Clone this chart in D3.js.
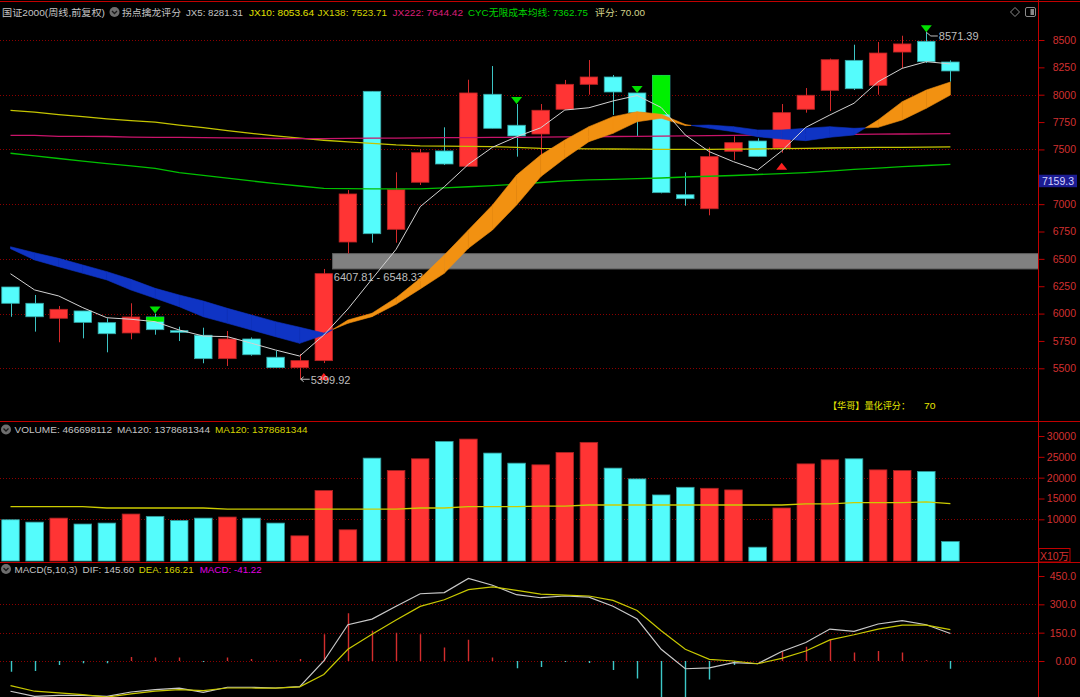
<!DOCTYPE html>
<html><head><meta charset="utf-8">
<script src="https://cdn.jsdelivr.net/npm/d3@7"></script>
<style>html,body{margin:0;padding:0;background:#000;overflow:hidden}</style>
</head><body>
<svg id="c" width="1080" height="697"></svg>
<script>
// ---------- DATA (weekly bars, 40 weeks) ----------
const openP  = [6243,6094,5957,6024,5917,5823,5969,5844,5802,5588,5768,5601,5506,5570,6654,8031,6770,7200,7486,7346,8004,7721,7641,7867,8095,8162,8016,8177,7086,6958,7483,7577,7513,7867,8040,8314,8086,8390,8488,8299];
const highP  = [6243,6170,6069,6024,5957,6094,6000,5880,5871,5841,5782,5658,5631,6407.81,7129,8031,7291,7504,7702,8137,8262,7915,7915,8135,8317,8180,8016,8177,7291,7519,7620,7602,7915,8061,8330,8457,8482,8539,8571.39,8314];
const lowP   = [5971,5835,5738,5774,5646,5765,5807,5749,5546,5521,5615,5505,5399.92,5548,6548.33,6648,6648,7175,7358,7346,7693,7434,7434,7867,8000,7815,7623,7099,6986,6898,7403,7437,7470,7836,7851,8043,8000,8241,8290,8119];
const closeP = [6094,5971,6039,5920,5816,5969,5853,5829,5588,5768,5624,5506,5570,6365,7093,6730,7132,7470,7367,8016,7693,7623,7858,8095,8162,8025,7836,7105,7050,7434,7562,7437,7836,7995,8320,8055,8381,8464,8302,8217];

const jx5    = [6364,6216,6161,6054,5962,5948,5926,5850,5795,5789,5729,5667,5612,5804,6042,6316,6587,6977,7159,7364,7520,7616,7698,7860,7881,7943,7993,7883,7632,7479,7388,7312,7486,7702,7815,7922,8119,8241,8302,8281.31];
const jx138  = [7857,7840,7819,7800,7780,7764,7749,7723,7699,7672,7647,7624,7603,7584,7569,7556,7541,7532,7530,7528,7525,7519,7510,7508,7506,7504,7502,7501,7501,7501,7502,7504,7508,7510,7513,7516,7518,7519,7521,7523.71];
const jx222  = [7629,7628,7620,7619,7618,7613,7611,7610,7608,7605,7603,7600,7598,7599,7601,7603,7604,7606,7607,7608,7610,7611,7612,7614,7616,7618,7620,7622,7624,7626,7628,7630,7632,7634,7636,7638,7640,7641,7643,7644.42];
const cyc    = [7465,7441,7417,7394,7371,7349,7326,7289,7263,7237,7212,7188,7166,7144,7142,7140,7139,7140,7148,7159,7170,7182,7198,7212,7221,7227,7234,7239,7248,7255,7262,7271,7279,7288,7301,7317,7330,7342,7353,7362.75];
const bandFast = [6593,6490,6428,6368,6307,6215,6140,6063,5971,5911,5850,5789,5728,5804,5941,6003,6145,6322,6535,6764,6992,7266,7449,7586,7708,7799,7845,7821,7728,7693,7662,7616,7595,7580,7611,7632,7769,7936,8043,8116];
const bandSlow = [6611,6556,6505,6444,6383,6313,6231,6170,6115,6048,5987,5926,5875,5822,5911,5972,6085,6225,6368,6597,6764,6992,7251,7419,7571,7647,7753,7785,7718,7723,7708,7678,7678,7693,7708,7693,7702,7769,7876,7997];

const downSignals = [6,21,26,38];     // green triangles above bar
const upSignals   = [13,32];          // red triangles below bar
const greenBars   = [{i:6, top:5969, bottom:5926},{i:27, top:8177, bottom:7819}];
const zone = {from:13, low:6407.81, high:6548.33};
const lowMark  = {i:12, v:5399.92};
const highMark = {i:38, v:8571.39};
const lastPrice = 7159.3;

const volume = [9900,9330,10290,8870,9100,11270,10710,9730,10290,10550,10290,9100,6040,16900,7490,24690,21700,24530,28700,29260,25900,23480,23080,26050,28470,22290,19700,15850,17690,17450,17060,3310,12720,23310,24290,24530,21870,21700,21470,4667];
const volMA  = [13045,13045,13045,13045,12720,12720,12720,12720,12720,12460,12460,12460,12460,12460,12460,12460,12460,12720,12720,13045,13045,13045,13185,13185,13442,13442,13442,13442,13442,13442,13442,13442,13442,13700,13700,14002,14002,14002,14166,13787];

const dif  = [-160,-187,-182,-182,-187,-164,-152,-144,-166,-139,-139,-143,-136,0,192,222,290,356,362,437,401,351,335,344,338,290,222,62,-41,-36,-9,-14.5,50,98,169,157,196,214,192,145.6];
const dea  = [-130,-160,-169,-178,-191,-174,-160,-152,-157,-143,-143,-144,-137,-71,62,142,217,289,324,378,392,374,354,349,344,321,267,160,62,9,0,-14.5,14,53,112,139,169,190,190,166.21];
const macd = [-57,-53,-21,-12,-12,21,18,18,-5,18,11,2,11,142,253,160,150,142,71,112,18,-39,-32,-5,-11,-48,-93,-198,-206,-98,-21,0,50,75,112,45,53,45,4,-41.22];

const priceTicks = [8500,8250,8000,7750,7500,7000,6750,6500,6250,6000,5750,5500];
const priceGrid  = [8500,8000,7500,7000,6500,6000,5500];
const volTicks   = [30000,25000,20000,15000,10000];
const volGrid    = [20000,10000];
const macdTicks  = [450,300,150,0];
const macdGrid   = [300,150,0];

// ---------- LAYOUT ----------
const W = 1080, H = 697, AX = 1038.5;
const FONT = '"Liberation Sans","Noto Sans CJK SC",sans-serif';
const HFONT = '"Liberation Sans Narrow","Liberation Sans","Noto Sans CJK SC",sans-serif';
const RED = '#ff3434', CYAN = '#54fcfc';
const svg = d3.select('#c');
svg.append('rect').attr('width', W).attr('height', H).attr('fill', '#000');

const n = openP.length;
const x = d3.scaleLinear().domain([0, n - 1]).range([10.5, 950.4]);
const bw = 17.5;
const y  = d3.scaleLinear().domain([5500, 8500]).range([368.3, 40]);
const yV = d3.scaleLinear().domain([0, 30000]).range([561, 436]);
const yM = d3.scaleLinear().domain([0, 450]).range([661, 576]);

const defs = svg.append('defs');
defs.append('clipPath').attr('id','cm').append('rect').attr('x',0).attr('y',20).attr('width',AX).attr('height',401);
defs.append('clipPath').attr('id','cv').append('rect').attr('x',0).attr('y',423).attr('width',AX).attr('height',139);
defs.append('clipPath').attr('id','cd').append('rect').attr('x',0).attr('y',563.5).attr('width',AX).attr('height',134);

const gMain = svg.append('g').attr('clip-path','url(#cm)');
const gVol  = svg.append('g').attr('clip-path','url(#cv)');
const gMacd = svg.append('g').attr('clip-path','url(#cd)');

function grid(g, vals, sc) {
  g.selectAll(null).data(vals).enter().append('line')
    .attr('x1', 0).attr('x2', AX).attr('y1', d => Math.round(sc(d)) + 0.5).attr('y2', d => Math.round(sc(d)) + 0.5)
    .attr('stroke', '#8c0000').attr('stroke-width', 1).attr('stroke-dasharray', '1,2');
}
grid(gMain, priceGrid, y);
grid(gVol, volGrid, yV);
grid(gMacd, macdGrid, yM);

// ---------- MAIN PANEL ----------
gMain.append('rect')
  .attr('x', x(zone.from) + bw / 2).attr('width', AX - (x(zone.from) + bw / 2))
  .attr('y', y(zone.high)).attr('height', y(zone.low) - y(zone.high))
  .attr('fill', '#808080').attr('stroke', '#5c5c5c').attr('stroke-width', 1);
gMain.append('text').attr('x', x(zone.from) + 10).attr('y', y(zone.low) + 8.5)
  .attr('dominant-baseline','central').attr('fill','#bebebe').attr('font-size', 11).attr('font-family', FONT)
  .text(zone.low.toFixed(2) + ' - ' + zone.high.toFixed(2));

const idx = d3.range(n);
const up = i => closeP[i] >= openP[i];
gMain.selectAll('.wick').data(idx).enter().append('line')
  .attr('x1', i => Math.round(x(i)) + 0.5).attr('x2', i => Math.round(x(i)) + 0.5)
  .attr('y1', i => y(highP[i])).attr('y2', i => y(lowP[i]))
  .attr('stroke', i => up(i) ? '#d42a2a' : '#3cc4c4').attr('stroke-width', 1);
gMain.selectAll('.body').data(idx).enter().append('rect')
  .attr('x', i => x(i) - bw / 2).attr('width', bw)
  .attr('y', i => y(Math.max(openP[i], closeP[i])))
  .attr('height', i => Math.max(1.5, Math.abs(y(openP[i]) - y(closeP[i]))))
  .attr('fill', i => up(i) ? RED : CYAN)
  .attr('stroke', i => up(i) ? '#b82424' : '#36a8a8').attr('stroke-width', 0.8);
gMain.selectAll('.gb').data(greenBars).enter().append('rect')
  .attr('x', d => x(d.i) - bw / 2).attr('width', bw)
  .attr('y', d => y(d.top)).attr('height', d => y(d.bottom) - y(d.top))
  .attr('fill', '#00f000');

const ln = arr => d3.line().x((d, i) => x(i)).y(d => y(d))(arr);
gMain.append('path').attr('d', ln(jx138)).attr('fill','none').attr('stroke','#c4c400').attr('stroke-width',1.3);
gMain.append('path').attr('d', ln(jx222)).attr('fill','none').attr('stroke','#c8146a').attr('stroke-width',1.3);
gMain.append('path').attr('d', ln(cyc)).attr('fill','none').attr('stroke','#00c000').attr('stroke-width',1.3);

const polys = [];
for (let i = 0; i < n - 1; i++) {
  const a0 = bandFast[i], b0 = bandSlow[i], a1 = bandFast[i + 1], b1 = bandSlow[i + 1];
  const d0 = a0 - b0, d1 = a1 - b1;
  if ((d0 >= 0) === (d1 >= 0)) {
    polys.push({up: d0 + d1 >= 0, pts: [[i, a0], [i + 1, a1], [i + 1, b1], [i, b0]]});
  } else {
    const t = d0 / (d0 - d1), xm = i + t, vm = a0 + (a1 - a0) * t;
    polys.push({up: d0 >= 0, pts: [[i, a0], [xm, vm], [i, b0]]});
    polys.push({up: d1 >= 0, pts: [[xm, vm], [i + 1, a1], [i + 1, b1]]});
  }
}
const pl = d3.line().x(d => x(d[0])).y(d => y(d[1]));
gMain.selectAll('.band').data(polys).enter().append('path')
  .attr('d', d => pl(d.pts) + 'Z')
  .attr('fill', d => d.up ? '#f29111' : '#0f34c4')
  .attr('stroke', d => d.up ? '#f29111' : '#0f34c4').attr('stroke-width', 0.6);

gMain.append('path').attr('d', ln(jx5)).attr('fill','none').attr('stroke','#d2d2d2').attr('stroke-width',1);

gMain.selectAll('.dn').data(downSignals).enter().append('path')
  .attr('d', i => { const cx = x(i), ay = y(highP[i]); return `M${cx-5.5},${ay-7}L${cx+5.5},${ay-7}L${cx},${ay}Z`; })
  .attr('fill', '#00e000');
gMain.selectAll('.upm').data(upSignals).enter().append('path')
  .attr('d', i => { const cx = x(i), ay = y(lowP[i]) + 10; return `M${cx},${ay}L${cx-5.5},${ay+7}L${cx+5.5},${ay+7}Z`; })
  .attr('fill', '#ff2020');

{
  const lx = x(lowMark.i), ly = y(lowMark.v);
  gMain.append('path').attr('d', `M${lx+1},${ly}L${lx+10},${ly}M${lx+1},${ly}L${lx+4},${ly-2.5}M${lx+1},${ly}L${lx+4},${ly+2.5}`)
    .attr('stroke', '#bebebe').attr('stroke-width', 1).attr('fill','none');
  gMain.append('text').attr('x', lx + 11).attr('y', ly + 1).attr('dominant-baseline','central')
    .attr('fill','#bebebe').attr('font-size', 11).attr('font-family', FONT).text(lowMark.v.toFixed(2));
  const hx = x(highMark.i), hy = y(highMark.v);
  gMain.append('path').attr('d', `M${hx},${hy}L${hx+4.5},${hy+3.8}L${hx+11.5},${hy+3.8}`)
    .attr('stroke', '#bebebe').attr('stroke-width', 1).attr('fill','none');
  gMain.append('text').attr('x', hx + 12.5).attr('y', hy + 3.8).attr('dominant-baseline','central')
    .attr('fill','#bebebe').attr('font-size', 11).attr('font-family', FONT).text(highMark.v.toFixed(2));
}

// ---------- VOLUME PANEL ----------
gVol.selectAll('.vb').data(idx).enter().append('rect')
  .attr('x', i => x(i) - 8.8).attr('width', 17.6)
  .attr('y', i => yV(volume[i])).attr('height', i => yV(0) - yV(volume[i]))
  .attr('fill', i => up(i) ? RED : CYAN)
  .attr('stroke', i => up(i) ? '#a82222' : '#309c9c').attr('stroke-width', 0.8);
gVol.append('path').attr('d', d3.line().x((d, i) => x(i)).y(d => yV(d))(volMA))
  .attr('fill','none').attr('stroke','#cccc00').attr('stroke-width',1.3);

// ---------- MACD PANEL ----------
gMacd.selectAll('.mb').data(idx).enter().append('line')
  .attr('x1', i => Math.round(x(i)) + 0.5).attr('x2', i => Math.round(x(i)) + 0.5)
  .attr('y1', yM(0)).attr('y2', i => yM(macd[i]))
  .attr('stroke', i => macd[i] >= 0 ? '#d22d2d' : '#3cc8c8').attr('stroke-width', 1.4);
const lm = arr => d3.line().x((d, i) => x(i)).y(d => yM(d))(arr);
gMacd.append('path').attr('d', lm(dif)).attr('fill','none').attr('stroke','#c8c8c8').attr('stroke-width',1.2);
gMacd.append('path').attr('d', lm(dea)).attr('fill','none').attr('stroke','#c8c800').attr('stroke-width',1.2);

// ---------- FRAME / AXES ----------
const frame = svg.append('g').attr('stroke', '#c00000').attr('stroke-width', 1);
frame.append('line').attr('x1', 0).attr('x2', W).attr('y1', 1.5).attr('y2', 1.5);
frame.append('line').attr('x1', 0).attr('x2', W).attr('y1', 421.5).attr('y2', 421.5);
frame.append('line').attr('x1', 0).attr('x2', W).attr('y1', 562.5).attr('y2', 562.5);
frame.append('line').attr('x1', AX).attr('x2', AX).attr('y1', 0).attr('y2', H);

function rightAxis(sc, vals, fmt) {
  const g = svg.append('g').attr('transform', `translate(${AX},0)`)
    .call(d3.axisRight(sc).tickValues(vals).tickSize(6).tickFormat(fmt));
  g.select('.domain').remove();
  g.selectAll('.tick line').attr('stroke', '#c00000');
  g.selectAll('.tick text').attr('x', 37.5).attr('text-anchor', 'end').attr('fill', '#d23030')
    .attr('font-size', 10.5).attr('font-family', FONT);
  return g;
}
rightAxis(y, priceTicks, d => String(d));
rightAxis(yV, volTicks, d => String(d));
rightAxis(yM, macdTicks, d => d === 0 ? '0.00' : d.toFixed(1));

{
  const by = y(lastPrice);
  svg.append('rect').attr('x', 1039).attr('y', by - 12).attr('width', 38).attr('height', 12.5).attr('fill', '#1c1c92');
  svg.append('text').attr('x', 1058).attr('y', by - 5.5).attr('text-anchor','middle').attr('dominant-baseline','central')
    .attr('fill', '#d4d4ff').attr('font-size', 10.5).attr('font-family', FONT).text(lastPrice.toFixed(1));
}
svg.append('rect').attr('x', 1039).attr('y', 548.5).attr('width', 31).attr('height', 13.5)
  .attr('fill', '#000').attr('stroke', '#c00000');
svg.append('text').attr('x', 1054.5).attr('y', 555.5).attr('text-anchor','middle').attr('dominant-baseline','central')
  .attr('fill', '#d23030').attr('font-size', 10.5).attr('font-family', FONT).text('X10万');

// ---------- HEADERS ----------
function icon(cx, cy) {
  svg.append('circle').attr('cx', cx).attr('cy', cy).attr('r', 5).attr('fill', '#6e6e6e');
  svg.append('path').attr('d', `M${cx-2.5},${cy-1}L${cx},${cy+1.5}L${cx+2.5},${cy-1}`)
    .attr('stroke', '#1a1a1a').attr('stroke-width', 1.3).attr('fill', 'none');
}
// a group of labels sharing one font size, each spread to its measured width
function labelRow(items, yp, fs) {
  const nodes = items.map(h => svg.append('text').attr('x', h.x).attr('y', yp)
    .attr('dominant-baseline','central').attr('fill', h.c).attr('font-size', fs)
    .attr('font-family', HFONT).text(h.t));
  let k = 1;
  nodes.forEach((t, i) => { k = Math.min(k, items[i].w / t.node().getComputedTextLength()); });
  const f = fs * k * 0.995;
  nodes.forEach((t, i) => t.attr('font-size', f.toFixed(2))
    .attr('textLength', items[i].w).attr('lengthAdjust', 'spacingAndGlyphs'));
}
const headerMain = [
  {x: 2,     w: 103,  t: '国证2000(周线,前复权)', c: '#c4c4c4'},
  {x: 122,   w: 59,   t: '拐点擒龙评分', c: '#c4c4c4'},
  {x: 186,   w: 57,   t: 'JX5: 8281.31', c: '#c4c4c4'},
  {x: 249,   w: 65,   t: 'JX10: 8053.64', c: '#e0e000'},
  {x: 317.5, w: 69.5, t: 'JX138: 7523.71', c: '#d4d400'},
  {x: 392.5, w: 70.5, t: 'JX222: 7644.42', c: '#dc1e78'},
  {x: 468,   w: 120,  t: 'CYC无限成本均线: 7362.75', c: '#00d400'},
  {x: 595,   w: 50,   t: '评分: 70.00', c: '#d4d48c'}
];
labelRow(headerMain, 12, 12);
icon(114.5, 12);

const headerVol = [
  {x: 14.5, w: 97.5, t: 'VOLUME: 466698112', c: '#c4c4c4'},
  {x: 117,  w: 93,   t: 'MA120: 1378681344', c: '#c4c4c4'},
  {x: 215,  w: 92.5, t: 'MA120: 1378681344', c: '#d4d400'}
];
labelRow(headerVol, 429.5, 12);
icon(6, 429.5);

const headerMacd = [
  {x: 14.5,  w: 63,   t: 'MACD(5,10,3)', c: '#c4c4c4'},
  {x: 82.6,  w: 51.7, t: 'DIF: 145.60', c: '#c4c4c4'},
  {x: 138.8, w: 54.7, t: 'DEA: 166.21', c: '#d4d400'},
  {x: 199.7, w: 62,   t: 'MACD: -41.22', c: '#e000e0'}
];
labelRow(headerMacd, 569, 12);
icon(6, 569);

labelRow([{x: 828, w: 82, t: '【华哥】量化评分：', c: '#e6e600'}, {x: 924, w: 11.5, t: '70', c: '#e6e600'}], 406, 11.5);

svg.append('path').attr('d', 'M1015,7.5L1019.5,12L1015,16.5L1010.5,12Z').attr('fill','none').attr('stroke','#8a8a8a').attr('stroke-width',1);
svg.append('rect').attr('x', 1025.5).attr('y', 7.5).attr('width', 10).attr('height', 9).attr('rx', 1.5)
  .attr('fill','none').attr('stroke','#8a8a8a').attr('stroke-width',1);
svg.append('rect').attr('x', 1030.5).attr('y', 9).attr('width', 3.5).attr('height', 6).attr('fill','#8a8a8a');
</script>
</body></html>
